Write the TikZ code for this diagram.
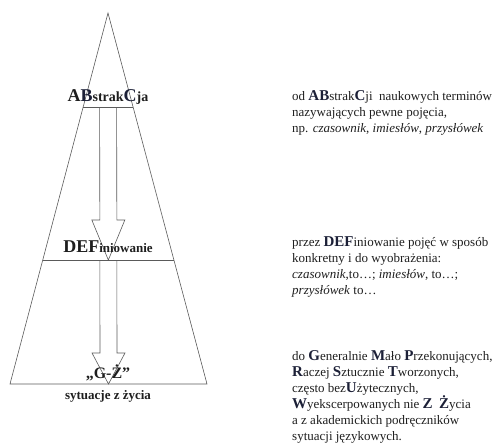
\documentclass[tikz,border=0pt]{standalone}
\usepackage{fontspec}
\setmainfont{Liberation Serif}
\usetikzlibrary{calc, positioning}
\definecolor{linegray}{RGB}{90,90,90}
\definecolor{capnavy}{RGB}{28,32,55}
\definecolor{textdark}{RGB}{30,30,30}
\newcommand{\capl}[1]{{\fontsize{15}{16}\selectfont\bfseries\color{capnavy}#1}}
\newcommand{\hollowarrow}[3]{%
  \draw[edge] ($(#1)+(-8.5,0)$) -- ($(#2)+(-8.5,-#3)$) -- ($(#2)+(-16.5,-#3)$) -- (#2)
    -- ($(#2)+(16.5,-#3)$) -- ($(#2)+(8.5,-#3)$) -- ($(#1)+(8.5,0)$);}

\begin{document}
\begin{tikzpicture}[
    x=1pt, y=-1pt,
    edge/.style={draw=linegray, line width=0.6pt},
    level/.style={font=\bfseries, text=textdark, inner sep=0pt, anchor=base},
    note/.style={font=\fontsize{13}{16}\selectfont, text=textdark, align=left, anchor=north west, inner sep=0pt},
]
\useasboundingbox (0,0) rectangle (496,443);

% Pyramid
\coordinate (apex) at (108,13);
\coordinate (baseL) at (10,384);
\coordinate (baseR) at (207,384);
\draw[edge] (baseL) -- (apex) -- (baseR) -- cycle;

% Level lines
\coordinate (absL) at ($(baseL)!0.7466!(apex)$);
\coordinate (absR) at ($(baseR)!0.7466!(apex)$);
\coordinate (defL) at ($(baseL)!0.3342!(apex)$);
\coordinate (defR) at ($(baseR)!0.3342!(apex)$);
\draw[edge] (absL) -- (absR);
\draw[edge] (defL) -- (defR);

\coordinate (absC) at ($(absL)!0.5!(absR)$);
\coordinate (defC) at ($(defL)!0.5!(defR)$);
\coordinate (gzC) at ($(baseL)!0.5!(baseR)$);

% Arrows down the pyramid
\hollowarrow{absC}{defC}{40}
\hollowarrow{defC}{gzC}{31}

% Level labels
\node[level] (abstr) at (108,102) {{\fontsize{18}{18}\selectfont A\textcolor{capnavy}{B}}{\fontsize{14}{14}\selectfont strak}{\fontsize{18}{18}\selectfont\textcolor{capnavy}{C}}{\fontsize{14}{14}\selectfont ja}};
\node[level] (defin) at (108,253) {{\fontsize{18}{18}\selectfont DEF}{\fontsize{13}{13}\selectfont iniowanie}};
\node[level] (gz) at (108,379) {\fontsize{16}{16}\selectfont „G-Ż”};
\node[level] (life) at (108,400) {\fontsize{13}{13}\selectfont sytuacje z życia};

% Notes on the right
\node[note] (noteA) at (292,90) {od \capl{AB}strak\capl{C}ji\ \ naukowych terminów\\
  nazywających pewne pojęcia,\\
  np. \textit{czasownik}, \textit{imiesłów}, \textit{przysłówek}};
\node[note] (noteD) at (292,236) {przez \capl{DEF}iniowanie pojęć w sposób\\
  konkretny i do wyobrażenia:\\
  \textit{czasownik},to…; \textit{imiesłów}, to…;\\
  \textit{przysłówek} to…};
\node[note] (noteG) at (292,350) {do \capl{G}eneralnie \capl{M}ało \capl{P}rzekonujących,\\
  \capl{R}aczej \capl{S}ztucznie \capl{T}worzonych,\\
  często bez\capl{U}żytecznych,\\
  \capl{W}yekscerpowanych nie \capl{Z}\ \ \capl{Ż}ycia\\
  a z akademickich podręczników\\
  sytuacji językowych.};

\end{tikzpicture}
\end{document}
